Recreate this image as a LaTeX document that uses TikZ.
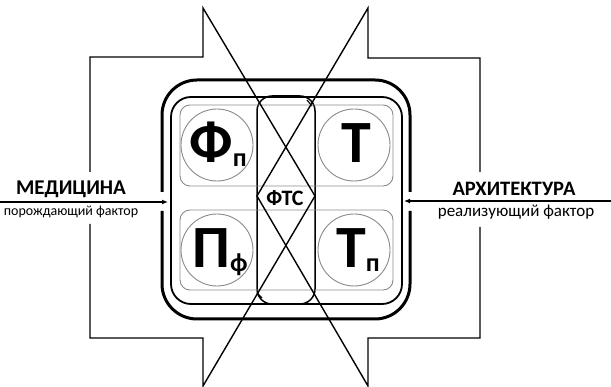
\documentclass[tikz,border=0pt]{standalone}
\usepackage{fontspec}
\setmainfont{Carlito}
\usetikzlibrary{arrows.meta}
\definecolor{CellGrey}{HTML}{8A8A8A}
\newcommand{\lowidx}[1]{\raisebox{-4pt}{\fontsize{26}{26}\selectfont #1}}

\begin{document}
\begin{tikzpicture}[x=1pt,y=-1pt,
  frame/.style={line width=1.4pt},
  shell/.style={line width=3pt,rounded corners=35pt},
  ring/.style={line width=1.8pt,rounded corners=20pt},
  column/.style={line width=1.5pt,rounded corners=15pt},
  rowbox/.style={draw=CellGrey,line width=0.9pt,rounded corners=10pt},
  cell/.style={circle,draw=CellGrey,line width=0.9pt,minimum size=72pt,inner sep=0pt},
  glyph/.style={font=\bfseries\fontsize{60}{60}\selectfont,anchor=base,inner sep=0pt},
  head/.style={font=\bfseries\fontsize{21}{22}\selectfont,inner sep=0pt},
  note/.style={font=\fontsize{14}{16}\selectfont,inner sep=0pt},
  feed/.style={line width=1.4pt,-{Latex[length=6pt,width=5pt]}}]
  \useasboundingbox (0,0) rectangle (611,387);

  % outer shell, open where the arrows come in
  \draw[shell] (162,192) -- (162,80) -- (410,80) -- (410,192);
  \draw[shell] (162,211) -- (162,319) -- (410,319) -- (410,211);
  \draw[ring] (171,97) rectangle (402,304);
  \draw[column] (257,96) rectangle (315,304);
  \draw[line width=1.2pt] (307,100) -- (312,106);
  \draw[line width=1.2pt] (257,293) -- (262,298);

  % the two rows of cells
  \draw[rowbox] (180,105) rectangle (393,186);
  \draw[rowbox] (180,210) rectangle (393,290);
  \node[cell] (fp) at (217,145) {};
  \node[cell] (t)  at (354,145) {};
  \node[cell] (pf) at (217,250) {};
  \node[cell] (tp) at (354,250) {};
  \node[glyph] at (218,163) {Ф\lowidx{п}};
  \node[glyph] at (356,163) {Т};
  \node[glyph] at (220,268) {П\lowidx{ф}};
  \node[glyph] at (358,268) {Т\lowidx{п}};

  \node[font=\bfseries\fontsize{22}{22}\selectfont,inner sep=0pt] (fts) at (285,198) {ФТС};
  \coordinate (ftsL) at (257,196);
  \coordinate (ftsR) at (315,196);

  % frames with the crossing lines
  \draw[frame] (90,172) -- (90,57) -- (203,57) -- (203,8) -- (ftsR)
    -- (203,386) -- (203,338) -- (90,338) -- (90,224);
  \draw[frame] (480,172) -- (480,58) -- (368,58) -- (368,8) -- (ftsL)
    -- (368,386) -- (368,338) -- (480,338) -- (480,227);

  % inputs
  \node[head] (med) at (71,189) {МЕДИЦИНА};
  \node[note] (medsub) at (71,212) {порождающий фактор};
  \node[head,font=\bfseries\fontsize{20.5}{22}\selectfont] (arch) at (514,189) {АРХИТЕКТУРА};
  \node[note,font=\fontsize{17}{18}\selectfont] (archsub) at (516,212) {реализующий фактор};
  \coordinate (srcL) at (0,202);
  \coordinate (inL) at (168,202);
  \coordinate (srcR) at (611,201);
  \coordinate (inR) at (404,201);
  \draw[feed] (srcL) -- (inL);
  \draw[feed] (srcR) -- (inR);
\end{tikzpicture}
\end{document}
